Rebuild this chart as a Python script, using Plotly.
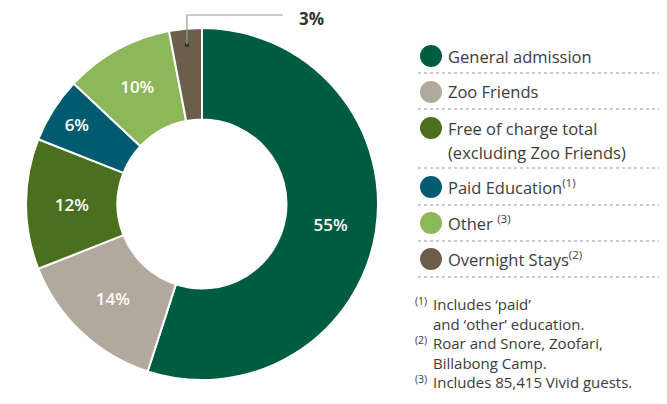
import math
import plotly.graph_objects as go

# ---- data ----
categories = ["General admission", "Zoo Friends", "Free of charge total (excluding Zoo Friends)",
              "Paid Education", "Other", "Overnight Stays"]
values = [55, 14, 12, 6, 10, 3]
colors = ["#005C40", "#B1A99D", "#4A6F1E", "#005A70", "#8DB85A", "#6B5E4A"]
legend_lines = [["General admission"], ["Zoo Friends"],
                ["Free of charge total", "(excluding Zoo Friends)"],
                ["Paid Education<sup>(1)</sup>"], ["Other <sup>(3)</sup>"],
                ["Overnight Stays<sup>(2)</sup>"]]
footnote_marks = ["(1)", "(2)", "(3)"]
footnote_lines = [["Includes \u2018paid\u2019", "and \u2018other\u2019 education."],
                  ["Roar and Snore, Zoofari,", "Billabong Camp."],
                  ["Includes 85,415 Vivid guests."]]

W, H = 667, 404
OFF = 8  # page body margin
FONT = "Open Sans"
TXT = "#3C3C3C"

def px(x):
    return (x - OFF) / W

def py(y):
    return 1 - (y - OFF) / H

# pie geometry (screen pixels)
cx, cy, R = 202, 204, 176
hole = 0.48

texts = [f"{v}%" if v >= 5 else "" for v in values]

fig = go.Figure(go.Pie(
    labels=categories, values=values, sort=False, direction="clockwise", rotation=0,
    hole=hole, marker=dict(colors=colors, line=dict(color="white", width=2)),
    text=texts, textinfo="text", textposition="inside",
    insidetextorientation="horizontal",
    insidetextfont=dict(family=FONT, size=17, color="white", weight=600),
    domain=dict(x=[px(cx - R), px(cx + R)], y=[py(cy + R), py(cy - R)]),
    showlegend=False, hoverinfo="label+percent",
))

shapes = []
annotations = []

# callout for small slice(s)
total = sum(values)
cum = 0
for v in values:
    if v < 5:
        ang = math.radians((cum + v / 2) / total * 360)
        r_dot = R - 16
        dx, dy = cx + r_dot * math.sin(ang), cy - r_dot * math.cos(ang)
        shapes.append(dict(type="circle", xref="paper", yref="paper",
                           x0=px(dx - 2), x1=px(dx + 2), y0=py(dy + 2), y1=py(dy - 2),
                           fillcolor="#222", line=dict(width=0)))
        shapes.append(dict(type="path", xref="paper", yref="paper",
                           path=f"M {px(dx)} {py(dy)} L {px(dx)} {py(15)} L {px(283)} {py(15)}",
                           line=dict(color="#999", width=1.2)))
        annotations.append(dict(text=f"<b>{v}%</b>", x=px(297), y=py(18), xref="paper", yref="paper",
                                xanchor="left", yanchor="middle", showarrow=False,
                                font=dict(family=FONT, size=17, color="#333")))
    cum += v

# legend
row_y = [56, 92, 128, 187, 223, 259]
sep_y = [73, 109, 168, 205, 241, 277]
for i, lines in enumerate(legend_lines):
    y0 = row_y[i]
    shapes.append(dict(type="circle", xref="paper", yref="paper",
                       x0=px(420), x1=px(442), y0=py(y0 + 11), y1=py(y0 - 11),
                       fillcolor=colors[i], line=dict(width=0)))
    for j, ln in enumerate(lines):
        annotations.append(dict(text=ln, x=px(446), y=py(y0 + j * 24), xref="paper", yref="paper",
                                xanchor="left", yanchor="middle", showarrow=False,
                                font=dict(family=FONT, size=16.5, color=TXT)))
    shapes.append(dict(type="line", xref="paper", yref="paper",
                       x0=px(418), x1=px(680), y0=py(sep_y[i]), y1=py(sep_y[i]),
                       line=dict(color="#9A9A9A", width=1, dash="dot")))

# footnotes: one text block + one marker block sharing the same line grid
FN_SIZE = 15
FN_LH = 1.3 * FN_SIZE
FN_TOP = 303  # centre of first footnote line
all_lines, mark_lines = [], []
for i, lines in enumerate(footnote_lines):
    for j, ln in enumerate(lines):
        all_lines.append(ln)
        mark_lines.append(f"<sup>{footnote_marks[i]}</sup>" if j == 0 else "&nbsp;")
annotations.append(dict(text="<br>".join(all_lines), x=px(431), y=py(FN_TOP - FN_LH / 2 - 1),
                        xref="paper", yref="paper", xanchor="left", yanchor="top", align="left",
                        showarrow=False, font=dict(family=FONT, size=FN_SIZE, color=TXT)))
annotations.append(dict(text="<br>".join(mark_lines), x=px(429), y=py(FN_TOP - FN_LH / 2 - 1),
                        xref="paper", yref="paper", xanchor="right", yanchor="top", align="left",
                        showarrow=False, font=dict(family=FONT, size=FN_SIZE, color=TXT)))

fig.update_layout(width=W, height=H, margin=dict(l=0, r=0, t=0, b=0),
                  paper_bgcolor="white", plot_bgcolor="white",
                  shapes=shapes, annotations=annotations)
fig.write_html("out.html")
